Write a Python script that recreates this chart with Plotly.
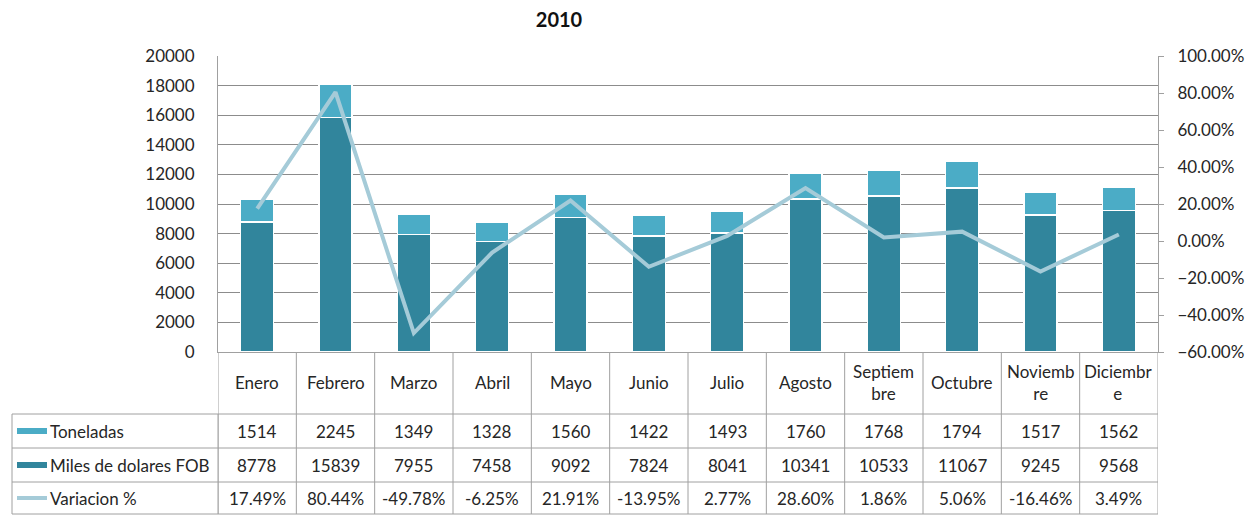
import plotly.graph_objects as go

# data (2010)
meses = ["Enero", "Febrero", "Marzo", "Abril", "Mayo", "Junio", "Julio",
         "Agosto", "Septiembre", "Octubre", "Noviembre", "Diciembre"]
meses_tabla = ["Enero", "Febrero", "Marzo", "Abril", "Mayo", "Junio", "Julio",
               "Agosto", "Septiem<br>bre", "Octubre", "Noviemb<br>re", "Diciembr<br>e"]
toneladas = [1514, 2245, 1349, 1328, 1560, 1422, 1493, 1760, 1768, 1794, 1517, 1562]
miles_fob = [8778, 15839, 7955, 7458, 9092, 7824, 8041, 10341, 10533, 11067, 9245, 9568]
variacion = [0.1749, 0.8044, -0.4978, -0.0625, 0.2191, -0.1395, 0.0277,
             0.2860, 0.0186, 0.0506, -0.1646, 0.0349]

series_names = ["Toneladas", "Miles de dolares FOB", "Variacion %"]

DARK = "#31859C"
LIGHT = "#4BACC6"
LINE = "#A5CBD8"
BORDER = "#A0A0A0"
GRID = "#8C8C8C"
FONT = "Lato"
TXT = "#262626"

# page has an 8px body margin, so the figure is 8px smaller than the window
W, H = 1248, 507
L, R, T, B = 210, 98, 48, 163
ph = H - T - B
pw = W - L - R


def py(pix):  # screen pixel row -> paper y
    return (352 - pix) / ph


def px(pix):  # screen pixel col -> paper x
    return (pix - 218) / pw


fig = go.Figure()

fig.add_trace(go.Bar(x=meses, y=miles_fob, name=series_names[1],
                     marker=dict(color=DARK, line=dict(color="white", width=1.5)),
                     width=0.42))
fig.add_trace(go.Bar(x=meses, y=toneladas, name=series_names[0],
                     marker=dict(color=LIGHT, line=dict(color="white", width=1.5)),
                     width=0.42))
fig.add_trace(go.Scatter(x=meses, y=variacion, name=series_names[2], yaxis="y2",
                         mode="lines", line=dict(color=LINE, width=4)))

shapes = []
annotations = []

row_lines = [414, 448, 482, 514]
row_text = [431, 465, 498]

# column borders (header row and data rows)
for i in range(len(meses) + 1):
    shapes.append(dict(type="line", xref="x", yref="paper",
                       x0=i - 0.5, x1=i - 0.5, y0=0, y1=py(row_lines[-1]),
                       line=dict(color=BORDER, width=1)))
# horizontal borders
for r in row_lines:
    shapes.append(dict(type="line", xref="paper", yref="paper",
                       x0=px(12), x1=1, y0=py(r), y1=py(r),
                       line=dict(color=BORDER, width=1)))
# label column borders
for xx in (px(12), 0):
    shapes.append(dict(type="line", xref="paper", yref="paper",
                       x0=xx, x1=xx, y0=py(row_lines[0]), y1=py(row_lines[-1]),
                       line=dict(color=BORDER, width=1)))

# legend keys in the table
shapes.append(dict(type="rect", xref="paper", yref="paper", line=dict(width=0),
                   x0=px(17), x1=px(47), y0=py(row_text[0] + 3), y1=py(row_text[0] - 3),
                   fillcolor=LIGHT))
shapes.append(dict(type="rect", xref="paper", yref="paper", line=dict(width=0),
                   x0=px(17), x1=px(47), y0=py(row_text[1] + 3), y1=py(row_text[1] - 3),
                   fillcolor=DARK))
shapes.append(dict(type="line", xref="paper", yref="paper",
                   x0=px(17), x1=px(47), y0=py(row_text[2]), y1=py(row_text[2]),
                   line=dict(color=LINE, width=4)))

tfont = dict(family=FONT, size=17, color=TXT)

# header row (month names)
for m, lab in zip(meses, meses_tabla):
    annotations.append(dict(x=m, xref="x", y=py(382), yref="paper", text=lab,
                            yanchor="middle", showarrow=False, font=tfont))

# data rows
rows = [[str(v) for v in toneladas],
        [str(v) for v in miles_fob],
        ["%.2f%%" % (v * 100) for v in variacion]]
for name, vals, yt in zip(series_names, rows, row_text):
    annotations.append(dict(x=px(48), xref="paper", y=py(yt), yref="paper", text=name,
                            xanchor="left", yanchor="middle", showarrow=False, font=tfont))
    for m, v in zip(meses, vals):
        annotations.append(dict(x=m, xref="x", y=py(yt), yref="paper", text=v,
                                yanchor="middle", showarrow=False, font=tfont))

fig.update_layout(
    barmode="stack",
    width=W, height=H,
    margin=dict(l=L, r=R, t=T, b=B),
    paper_bgcolor="white", plot_bgcolor="white",
    showlegend=False,
    title=dict(text="<b>2010</b>", x=551 / W, xanchor="center", y=1 - 12 / H, yanchor="middle",
               font=dict(family=FONT, size=20, color="#111111")),
    font=dict(family=FONT, size=17, color=TXT),
    xaxis=dict(showticklabels=False, showline=True, linecolor=BORDER, linewidth=1,
               showgrid=False, range=[-0.5, 11.5], fixedrange=True),
    yaxis=dict(range=[0, 20000], dtick=2000, tickformat="d", showgrid=True,
               gridcolor=GRID, gridwidth=1, showline=True, linecolor=BORDER, linewidth=1,
               ticks="", ticklabelstandoff=19, zeroline=False,
               tickfont=dict(family=FONT, size=17, color=TXT)),
    yaxis2=dict(range=[-0.6, 1.0], dtick=0.2, tickformat=".2%", overlaying="y",
                side="right", showgrid=False, showline=True, linecolor=BORDER,
                linewidth=1, ticks="outside", ticklen=5, tickcolor=BORDER,
                ticklabelstandoff=10, zeroline=False,
                tickfont=dict(family=FONT, size=17, color=TXT)),
    shapes=shapes,
    annotations=annotations,
)

fig.write_html("out.html")
